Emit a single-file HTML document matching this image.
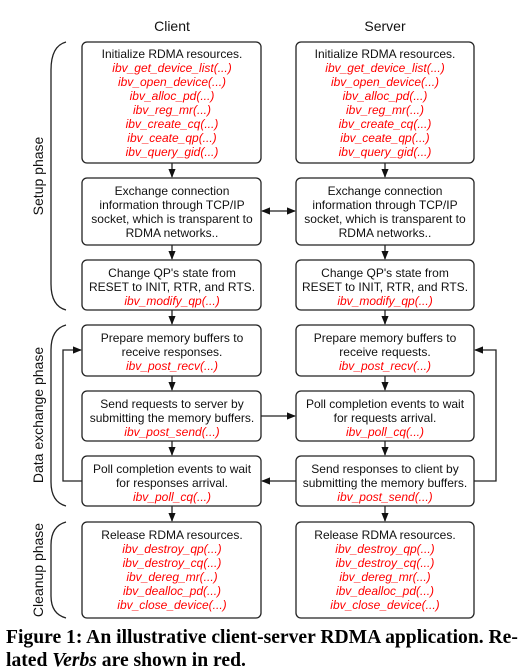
<!DOCTYPE html>
<html><head><meta charset="utf-8"><style>
html,body{margin:0;padding:0;background:#fff;width:528px;height:671px;overflow:hidden}
svg{display:block}
.t{font-family:"Liberation Sans",Arial,sans-serif;font-size:12px;fill:#111;text-anchor:middle}
.r{font-family:"Liberation Sans",Arial,sans-serif;font-size:12px;fill:#f00;font-style:italic;text-anchor:middle}
.h{font-family:"Liberation Sans",Arial,sans-serif;font-size:14px;fill:#111;text-anchor:middle}
.p{font-family:"Liberation Sans",Arial,sans-serif;font-size:14px;fill:#111;text-anchor:middle}
.cap{position:absolute;left:6px;top:626px;width:520px;font-family:"Liberation Serif",serif;font-weight:bold;font-size:19.6px;line-height:23px;color:#000;white-space:nowrap}
rect{fill:#fff;stroke:#222;stroke-width:1.3}
.l{stroke:#222;stroke-width:1.3;fill:none}
</style></head><body>
<svg width="528" height="671" viewBox="0 0 528 671" style="position:absolute;left:0;top:0">
<defs><marker id="a" viewBox="0 0 10 10" refX="9" refY="5" markerWidth="7" markerHeight="7" orient="auto-start-reverse"><path d="M0,1 L10,5 L0,9 z" fill="#111"/></marker></defs>
<text class="h" x="172" y="31">Client</text>
<text class="h" x="385" y="31">Server</text>
<path class="l" d="M66,42 Q51,46 51,70 L51,284 Q51,306 66,310"/>
<path class="l" d="M66,325 Q51,329 51,350 L51,482 Q51,502 66,506"/>
<path class="l" d="M66,522 Q51,526 51,545 L51,596 Q51,614 66,618"/>
<text class="p" transform="translate(43,176) rotate(-90)">Setup phase</text>
<text class="p" transform="translate(43,415) rotate(-90)">Data exchange phase</text>
<text class="p" transform="translate(43,570) rotate(-90)">Cleanup phase</text>
<g>
<rect x="82" y="42" width="179" height="121" rx="5"/>
<rect x="82" y="178" width="179" height="67" rx="5"/>
<rect x="82" y="260" width="179" height="50" rx="5"/>
<rect x="82" y="325" width="179" height="51" rx="5"/>
<rect x="82" y="391" width="179" height="50" rx="5"/>
<rect x="82" y="456" width="179" height="50" rx="5"/>
<rect x="82" y="522" width="179" height="96" rx="5"/>
</g>
<g>
<rect x="296" y="42" width="178" height="121" rx="5"/>
<rect x="296" y="178" width="178" height="67" rx="5"/>
<rect x="296" y="260" width="178" height="50" rx="5"/>
<rect x="296" y="325" width="178" height="51" rx="5"/>
<rect x="296" y="391" width="178" height="50" rx="5"/>
<rect x="296" y="456" width="178" height="50" rx="5"/>
<rect x="296" y="522" width="178" height="96" rx="5"/>
</g>
<g class="l" marker-end="url(#a)">
<line x1="172" y1="163" x2="172" y2="177"/><line x1="172" y1="245" x2="172" y2="259"/><line x1="172" y1="310" x2="172" y2="324"/>
<line x1="172" y1="376" x2="172" y2="390"/><line x1="172" y1="441" x2="172" y2="455"/><line x1="172" y1="506" x2="172" y2="521"/>
<line x1="385" y1="163" x2="385" y2="177"/><line x1="385" y1="245" x2="385" y2="259"/><line x1="385" y1="310" x2="385" y2="324"/>
<line x1="385" y1="376" x2="385" y2="390"/><line x1="385" y1="441" x2="385" y2="455"/><line x1="385" y1="506" x2="385" y2="521"/>
<line x1="261" y1="416" x2="295" y2="416"/>
<line x1="296" y1="481" x2="262" y2="481"/>
<polyline points="82,481 63,481 63,350 81,350"/>
<polyline points="474,481 496,481 496,350 475,350"/>
</g>
<line class="l" x1="262" y1="211" x2="295" y2="211" marker-start="url(#a)" marker-end="url(#a)"/>
<text class="t" x="172" y="58">Initialize RDMA resources.</text>
<text class="r" x="172" y="72">ibv_get_device_list(...)</text>
<text class="r" x="172" y="86">ibv_open_device(...)</text>
<text class="r" x="172" y="100">ibv_alloc_pd(...)</text>
<text class="r" x="172" y="114">ibv_reg_mr(...)</text>
<text class="r" x="172" y="128">ibv_create_cq(...)</text>
<text class="r" x="172" y="142">ibv_ceate_qp(...)</text>
<text class="r" x="172" y="156">ibv_query_gid(...)</text>
<text class="t" x="172" y="195">Exchange connection</text>
<text class="t" x="172" y="209">information through TCP/IP</text>
<text class="t" x="172" y="223">socket, which is transparent to</text>
<text class="t" x="172" y="237">RDMA networks..</text>
<text class="t" x="172" y="277">Change QP's state from</text>
<text class="t" x="172" y="291">RESET to INIT, RTR, and RTS.</text>
<text class="r" x="172" y="305">ibv_modify_qp(...)</text>
<text class="t" x="172" y="342">Prepare memory buffers to</text>
<text class="t" x="172" y="356">receive responses.</text>
<text class="r" x="172" y="370">ibv_post_recv(...)</text>
<text class="t" x="172" y="408">Send requests to server by</text>
<text class="t" x="172" y="422">submitting the memory buffers.</text>
<text class="r" x="172" y="436">ibv_post_send(...)</text>
<text class="t" x="172" y="473">Poll completion events to wait</text>
<text class="t" x="172" y="487">for responses arrival.</text>
<text class="r" x="172" y="501">ibv_poll_cq(...)</text>
<text class="t" x="172" y="539">Release RDMA resources.</text>
<text class="r" x="172" y="553">ibv_destroy_qp(...)</text>
<text class="r" x="172" y="567">ibv_destroy_cq(...)</text>
<text class="r" x="172" y="581">ibv_dereg_mr(...)</text>
<text class="r" x="172" y="595">ibv_dealloc_pd(...)</text>
<text class="r" x="172" y="609">ibv_close_device(...)</text>
<text class="t" x="385" y="58">Initialize RDMA resources.</text>
<text class="r" x="385" y="72">ibv_get_device_list(...)</text>
<text class="r" x="385" y="86">ibv_open_device(...)</text>
<text class="r" x="385" y="100">ibv_alloc_pd(...)</text>
<text class="r" x="385" y="114">ibv_reg_mr(...)</text>
<text class="r" x="385" y="128">ibv_create_cq(...)</text>
<text class="r" x="385" y="142">ibv_ceate_qp(...)</text>
<text class="r" x="385" y="156">ibv_query_gid(...)</text>
<text class="t" x="385" y="195">Exchange connection</text>
<text class="t" x="385" y="209">information through TCP/IP</text>
<text class="t" x="385" y="223">socket, which is transparent to</text>
<text class="t" x="385" y="237">RDMA networks..</text>
<text class="t" x="385" y="277">Change QP's state from</text>
<text class="t" x="385" y="291">RESET to INIT, RTR, and RTS.</text>
<text class="r" x="385" y="305">ibv_modify_qp(...)</text>
<text class="t" x="385" y="342">Prepare memory buffers to</text>
<text class="t" x="385" y="356">receive requests.</text>
<text class="r" x="385" y="370">ibv_post_recv(...)</text>
<text class="t" x="385" y="408">Poll completion events to wait</text>
<text class="t" x="385" y="422">for requests arrival.</text>
<text class="r" x="385" y="436">ibv_poll_cq(...)</text>
<text class="t" x="385" y="473">Send responses to client by</text>
<text class="t" x="385" y="487">submitting the memory buffers.</text>
<text class="r" x="385" y="501">ibv_post_send(...)</text>
<text class="t" x="385" y="539">Release RDMA resources.</text>
<text class="r" x="385" y="553">ibv_destroy_qp(...)</text>
<text class="r" x="385" y="567">ibv_destroy_cq(...)</text>
<text class="r" x="385" y="581">ibv_dereg_mr(...)</text>
<text class="r" x="385" y="595">ibv_dealloc_pd(...)</text>
<text class="r" x="385" y="609">ibv_close_device(...)</text>
</svg>
<div class="cap">Figure 1: An illustrative client-server RDMA application. Re-<br>lated <i>Verbs</i> are shown in red.</div>
</body></html>
